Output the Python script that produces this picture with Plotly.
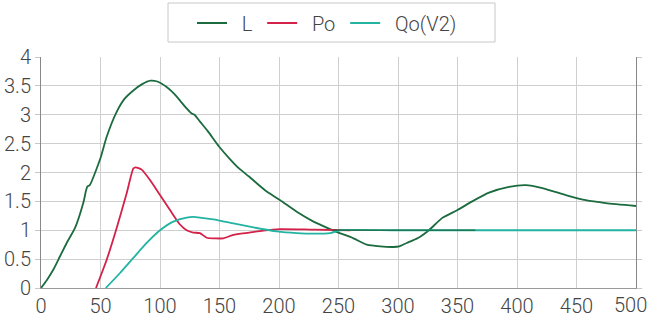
import plotly.graph_objects as go

# ---- data ----
L_x = [0, 5, 10.4, 16, 21.6, 28.6, 35.5, 38, 39, 41, 46.8, 50, 55.2, 63.6, 70, 77.6, 85, 92, 97,
       105.6, 112, 117, 122.4, 126.6, 129, 133.6, 140, 149.6, 158, 166.4, 174.8, 182, 189.7, 201,
       214.9, 229, 243, 249.9, 262.6, 273.8, 285, 296.1, 301, 307.3, 312, 318, 326, 337, 350,
       362.4, 376.5, 393.3, 407.3, 421.3, 441, 457.8, 474.6, 500]
L_y = [0, 0.14, 0.32, 0.55, 0.78, 1.04, 1.47, 1.7, 1.76, 1.78, 2.07, 2.25, 2.62, 3.05, 3.27, 3.42,
       3.53, 3.59, 3.58, 3.48, 3.36, 3.24, 3.11, 3.02, 3.0, 2.88, 2.72, 2.45, 2.25, 2.07, 1.93, 1.80,
       1.67, 1.52, 1.32, 1.15, 1.02, 0.96, 0.86, 0.75, 0.72, 0.71, 0.72, 0.78, 0.82, 0.88, 1.0, 1.21,
       1.35, 1.50, 1.65, 1.75, 1.78, 1.73, 1.61, 1.52, 1.47, 1.42]

Po_x = [46.2, 55.2, 63.6, 72, 77.6, 79.5, 84.6, 91.6, 100, 108.4, 116.8, 122.4, 128, 133.6, 139.3,
        146, 153.2, 161.7, 175, 186.8, 201, 229, 260]
Po_y = [0, 0.49, 1.04, 1.64, 2.07, 2.09, 2.05, 1.87, 1.61, 1.35, 1.10, 1.0, 0.96, 0.95, 0.87,
        0.86, 0.86, 0.92, 0.96, 0.995, 1.02, 1.01, 1.0]

Qo_x = [54.4, 66.4, 77.6, 88.8, 100, 111.2, 122.4, 128, 133.6, 144.8, 161.7, 178.5, 198.1, 214.9,
        229, 243, 251.4, 300, 400, 500]
Qo_y = [0, 0.26, 0.52, 0.78, 1.0, 1.15, 1.22, 1.23, 1.22, 1.19, 1.12, 1.05, 0.98, 0.95, 0.94,
        0.95, 1.0, 1.0, 1.0, 1.0]

# dark overlapping segment visible at y = 1
Seg_x = [245, 365]
Seg_y = [1.0, 1.0]

x_ticks = list(range(0, 501, 50))
x_labels = [str(v) for v in x_ticks]
y_ticks = [0, 0.5, 1, 1.5, 2, 2.5, 3, 3.5, 4]
y_labels = ["%g" % v for v in y_ticks]

C_L = "#1b6b3e"
C_Po = "#d42149"
C_Qo = "#22b3a2"

FONT = "Roboto, sans-serif"
NB = "\u00a0"

# last x label is placed as an annotation, right-aligned so it stays inside the page
x_ticktext = x_labels[:-1] + [""]

fig = go.Figure()
fig.add_trace(go.Scatter(x=L_x, y=L_y, name=NB * 2 + "L" + NB, mode="lines",
                         line=dict(color=C_L, width=1.8, shape="spline", smoothing=0.6)))
fig.add_trace(go.Scatter(x=Po_x, y=Po_y, name=NB * 2 + "Po" + NB, mode="lines",
                         line=dict(color=C_Po, width=1.8, shape="spline", smoothing=0.6)))
fig.add_trace(go.Scatter(x=Qo_x, y=Qo_y, name=NB * 2 + "Qo(V2)", mode="lines",
                         line=dict(color=C_Qo, width=1.8, shape="spline", smoothing=0.6)))
fig.add_trace(go.Scatter(x=Seg_x, y=Seg_y, mode="lines", showlegend=False, hoverinfo="skip",
                         line=dict(color=C_L, width=1.6), opacity=0.8))

# plot area in pixels: left 41, right 636, top 57, bottom 288
PW, PH = 595.0, 231.0
def px_x(p):
    return (p - 41) / PW
def px_y(p):
    return (288 - p) / PH

fig.update_layout(
    width=650, height=319,
    margin=dict(l=41, r=14, t=57, b=31, autoexpand=False),
    paper_bgcolor="white", plot_bgcolor="white",
    font=dict(family=FONT, size=20, color="#444", weight=300),
    legend=dict(orientation="h", x=px_x(192), xanchor="left", y=px_y(23), yanchor="middle",
                borderwidth=0, bgcolor="rgba(0,0,0,0)",
                font=dict(family=FONT, size=20, color="#444", weight=300),
                itemwidth=30),
    showlegend=True,
    shapes=[dict(type="rect", xref="paper", yref="paper",
                 x0=px_x(168), x1=px_x(495), y0=px_y(42), y1=px_y(3),
                 line=dict(color="#c8c8c8", width=1), layer="below")],
    annotations=[dict(x=x_ticks[-1], xref="x", y=0, yref="paper", text=x_labels[-1],
                      showarrow=False, xanchor="right", yanchor="middle",
                      xshift=12, yshift=-17, borderpad=0,
                      font=dict(family=FONT, size=20, color="#444", weight=300))],
)
fig.update_xaxes(range=[0, 500], tickvals=x_ticks, ticktext=x_ticktext,
                 showgrid=True, gridcolor="#cfcfcf", gridwidth=1,
                 showline=True, linecolor="#999", linewidth=1,
                 ticks="", zeroline=False, automargin=False, ticklabeloverflow="allow")
fig.update_yaxes(range=[0, 4], tickvals=y_ticks, ticktext=y_labels,
                 showgrid=True, gridcolor="#cfcfcf", gridwidth=1,
                 showline=True, linecolor="#888", linewidth=1, mirror="ticks",
                 ticks="outside", ticklen=5, tickcolor="#c8c8c8",
                 zeroline=False, automargin=False, ticklabelstandoff=0,
                 ticklabeloverflow="allow")

fig.write_html("out.html", post_script="document.body.style.margin='0';",
               config={"displayModeBar": False})
